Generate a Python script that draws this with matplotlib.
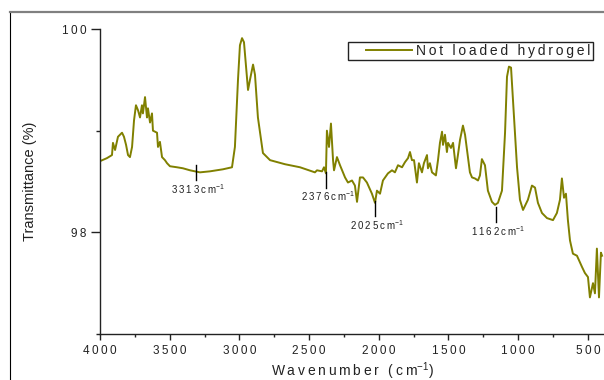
import matplotlib.pyplot as plt
from matplotlib.lines import Line2D
from matplotlib.legend_handler import HandlerLine2D
from matplotlib.ticker import MultipleLocator, FuncFormatter

plt.rcParams['font.family'] = ['Liberation Sans', 'DejaVu Sans']
plt.rcParams['mathtext.fontset'] = 'custom'
plt.rcParams['mathtext.rm'] = 'Liberation Sans'
plt.rcParams['mathtext.it'] = 'Liberation Sans:italic'

# FTIR spectrum
wavenumber = [4000, 3950, 3914, 3907, 3892, 3871, 3842, 3828, 3813, 3799,
              3785, 3770, 3756, 3742, 3727, 3713, 3699, 3692, 3677, 3663,
              3656, 3641, 3627, 3620, 3591, 3584, 3570, 3555, 3534, 3519,
              3498, 3448, 3405, 3354, 3283, 3211, 3118, 3053, 3032, 3010,
              2996, 2981, 2967, 2938, 2924, 2902, 2888, 2867, 2831, 2780,
              2673, 2565, 2458, 2443, 2407, 2393, 2379, 2372, 2357, 2343,
              2328, 2321, 2300, 2278, 2242, 2221, 2192, 2171, 2156, 2135,
              2113, 2085, 2049, 2027, 2013, 1991, 1970, 1934, 1905, 1884,
              1862, 1833, 1812, 1790, 1776, 1762, 1747, 1726, 1712, 1690,
              1676, 1654, 1647, 1633, 1618, 1590, 1575, 1561, 1546, 1539,
              1525, 1511, 1503, 1482, 1467, 1446, 1432, 1417, 1396, 1381,
              1360, 1346, 1331, 1310, 1288, 1274, 1260, 1238, 1217, 1188,
              1166, 1145, 1116, 1094, 1080, 1066, 1051, 1037, 1008, 987,
              965, 930, 901, 879, 858, 829, 793, 750, 722, 700,
              686, 671, 657, 643, 628, 607, 578, 542, 521, 499,
              485, 463, 449, 435, 420, 406, 398]
transmittance = [98.70, 98.73, 98.76, 98.88, 98.81, 98.94, 98.98, 98.94, 98.86, 98.76,
                 98.74, 98.84, 99.10, 99.25, 99.20, 99.13, 99.25, 99.17, 99.33, 99.13,
                 99.22, 99.08, 99.17, 99.00, 98.98, 98.84, 98.89, 98.74, 98.71, 98.68,
                 98.65, 98.64, 98.63, 98.61, 98.59, 98.60, 98.62, 98.64, 98.84, 99.50,
                 99.84, 99.91, 99.87, 99.40, 99.50, 99.65, 99.55, 99.13, 98.78, 98.71,
                 98.67, 98.64, 98.59, 98.61, 98.60, 98.64, 98.58, 99.00, 98.84, 99.07,
                 98.71, 98.61, 98.74, 98.66, 98.54, 98.49, 98.51, 98.46, 98.30, 98.54,
                 98.54, 98.49, 98.38, 98.29, 98.41, 98.38, 98.51, 98.58, 98.61, 98.59,
                 98.66, 98.64, 98.69, 98.73, 98.79, 98.71, 98.71, 98.49, 98.68, 98.59,
                 98.68, 98.76, 98.63, 98.68, 98.59, 98.56, 98.71, 98.88, 98.99, 98.86,
                 98.96, 98.79, 98.88, 98.83, 98.88, 98.63, 98.76, 98.91, 99.05, 98.96,
                 98.74, 98.59, 98.54, 98.53, 98.51, 98.56, 98.72, 98.66, 98.41, 98.30,
                 98.27, 98.29, 98.41, 98.98, 99.53, 99.63, 99.62, 99.30, 98.64, 98.32,
                 98.22, 98.32, 98.46, 98.44, 98.29, 98.19, 98.14, 98.12, 98.19, 98.32,
                 98.53, 98.34, 98.38, 98.12, 97.92, 97.79, 97.77, 97.66, 97.60, 97.56,
                 97.36, 97.50, 97.40, 97.84, 97.36, 97.80, 97.77]

peak_wn = [3313, 2376, 2025, 1162]
peak_top = [98.66, 98.59, 98.31, 98.25]
peak_names = ['3313', '2376', '2025', '1162']

series_name = 'Not loaded hydrogel'
line_color = '#808000'
text_color = '#222222'


def spread(s):
    # imitate the wide letter spacing of the original
    return '\u2009'.join(s)


fig = plt.figure(figsize=(6.04, 3.8), dpi=100)
ax = fig.add_axes([100 / 604, 46 / 380, 504 / 604, 305 / 380])

ax.plot(wavenumber, transmittance, color=line_color, lw=1.4, label=spread(series_name))

for wn, top, name in zip(peak_wn, peak_top, peak_names):
    ax.plot([wn, wn], [top, top - 0.15], color='black', lw=1)
    ax.text(wn - 15, top - 0.17, spread(name + 'cm') + r'$^{-1}$', ha='center', va='top',
            fontsize=7, color=text_color)

ax.set_xlim(4000, 384)
ax.set_ylim(97, 100)
ax.xaxis.set_major_locator(MultipleLocator(500))
ax.xaxis.set_minor_locator(MultipleLocator(250))
ax.yaxis.set_major_locator(MultipleLocator(2))
ax.yaxis.set_minor_locator(MultipleLocator(1))
fmt = FuncFormatter(lambda v, p: spread('%d' % round(v)))
ax.xaxis.set_major_formatter(fmt)
ax.yaxis.set_major_formatter(fmt)

for side in ['top', 'right']:
    ax.spines[side].set_visible(False)
for side in ['left', 'bottom']:
    ax.spines[side].set_color(text_color)
    ax.spines[side].set_linewidth(1)

ax.tick_params(axis='x', which='major', direction='out', length=4, width=1, pad=4,
               labelsize=8.5, colors=text_color)
ax.tick_params(axis='x', which='minor', direction='out', length=2.5, width=1, colors=text_color)
ax.tick_params(axis='y', which='major', direction='out', length=6.5, width=1, pad=3,
               labelsize=8.5, colors=text_color)
ax.tick_params(axis='y', which='minor', direction='out', length=3, width=1, colors=text_color)

ax.set_xlabel(spread('Wavenumber (cm') + r'$^{-1}$' + ')', fontsize=10, color=text_color)
ax.xaxis.set_label_coords(0.5, -0.085)
ax.set_ylabel('Transmittance (%)', fontsize=10.5, color=text_color)
ax.yaxis.set_label_coords(-0.125, 0.5)

leg = ax.legend(loc='upper right', bbox_to_anchor=(0.978, 0.957), borderaxespad=0,
                fontsize=10, frameon=True, fancybox=False, framealpha=1,
                edgecolor='#222222', borderpad=0.15, handlelength=4.4, handletextpad=0.35,
                handler_map={Line2D: HandlerLine2D(xpad=1.1)})
leg.get_frame().set_linewidth(1)
for t in leg.get_texts():
    t.set_color(text_color)

# outer frame pieces visible in the original
fig.add_artist(Line2D([10 / 604, 10 / 604], [0, 368 / 380], color='black', lw=0.8,
                      transform=fig.transFigure))
fig.add_artist(Line2D([10 / 604, 1], [368 / 380, 368 / 380], color='#808080', lw=1.6,
                      transform=fig.transFigure))

fig.savefig('out.png', dpi=100)
